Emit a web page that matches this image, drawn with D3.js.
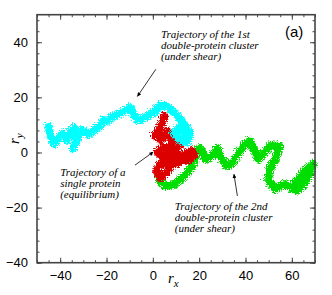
<!DOCTYPE html>
<html>
<head>
<meta charset="utf-8">
<script src="https://cdn.jsdelivr.net/npm/d3@7"></script>
<style>
  body { margin: 0; background: #fff; }
  .tick text { font-family: "Liberation Sans", Arial, sans-serif; font-size: 13px; fill: #000; }
  .note { font-family: "Liberation Serif", "Times New Roman", serif; font-style: italic; font-size: 11px; fill: #000; }
</style>
</head>
<body>
<div id="chart"></div>
<script>
// trajectories, [r_x, r_y]
var cyanTrack = [[-46.1,10.3],[-45.2,6.7],[-43.5,3.8],[-41.8,6.0],[-40.0,7.4],[-38.3,5.3],[-36.6,8.2],
  [-34.9,9.6],[-34.0,5.6],[-35.3,2.3],[-33.1,6.7],[-31.4,8.9],[-28.8,7.4],[-26.2,8.9],[-23.7,10.3],
  [-22.4,12.5],[-20.2,12.2],[-18.0,14.0],[-15.4,14.7],[-13.3,15.8],[-10.7,17.2],[-9.4,14.7],[-7.7,12.5],
  [-5.5,12.9],[-2.9,14.3],[-0.3,15.4],[1.8,17.6],[4.4,18.0],[6.6,16.5],[9.6,14.3],[12.2,11.4],
  [15.2,8.2],[13.9,4.5],[10.9,5.3],[8.3,7.8],[11.0,10.5],[13.5,7.0]];
var redTrack = [[4.0,14.0],[3.0,11.0],[1.5,9.0],[0.0,7.0],[2.5,5.5],[5.5,8.5],[7.5,6.0],[6.5,3.0],
  [3.5,2.5],[1.0,1.0],[3.5,-1.0],[6.5,0.5],[8.5,-1.0],[5.5,-3.0],[2.0,-3.5],[0.5,-6.0],[2.5,-8.5],
  [5.0,-6.5],[7.0,-4.0],[10.0,-3.0],[12.5,0.0],[15.5,1.5],[17.0,0.0],[14.5,-2.0],[11.0,-1.5],[9.0,1.5],[10.5,3.5]];
var greenTrack = [[1.4,-7.1],[2.2,-10.0],[4.8,-11.4],[8.3,-10.7],[11.7,-8.5],[14.8,-5.6],[17.0,-2.7],
  [17.4,0.9],[19.5,2.4],[21.7,-1.6],[24.7,-0.5],[26.9,2.4],[28.6,-1.3],[31.2,-4.2],[33.8,-2.7],
  [36.0,0.2],[38.2,3.1],[40.7,4.9],[43.0,1.3],[44.6,-1.6],[47.2,0.9],[50.2,3.4],[53.7,3.1],[51.9,-1.6],
  [49.4,-5.6],[48.9,-9.3],[51.9,-12.5],[55.8,-10.7],[59.2,-12.2],[61.0,-9.5],[62.3,-8.5],[65.3,-5.3],
  [68.3,-3.4],[66.5,-8.0],[63.5,-11.5],[61.0,-13.0]];

var xTicks = [-40, -20, 0, 20, 40, 60];
var yTicks = [-40, -20, 0, 20, 40];

var notes = [
  {lines: ["Trajectory of the 1st", "double-protein cluster", "(under shear)"], at: [3.5, 41.5], from: [1.3, 30.2], to: [-6.7, 20.3]},
  {lines: ["Trajectory of a", "single protein", "(equilibrium)"], at: [-40.0, -8.5], from: [-7.7, -4.6], to: [0.2, 0.2]},
  {lines: ["Trajectory of the 2nd", "double-protein cluster", "(under shear)"], at: [9.5, -21.0], from: [36.5, -15.8], to: [35.0, -7.8]}
];

var w = 332, h = 295;
var margin = {top: 14.7, right: 17, bottom: 32.3, left: 37};

var x = d3.scaleLinear().domain([-50, 70]).range([margin.left, w - margin.right]);
var y = d3.scaleLinear().domain([-40, 50]).range([h - margin.bottom, margin.top]);

var svg = d3.select("#chart").append("svg")
  .attr("width", w)
  .attr("height", h);

// fuzzy edge for the random walks
var defs = svg.append("defs");
var filt = defs.append("filter").attr("id", "rough")
  .attr("x", "-10%").attr("y", "-10%").attr("width", "120%").attr("height", "120%");
filt.append("feTurbulence").attr("type", "turbulence").attr("baseFrequency", 0.5)
  .attr("numOctaves", 2).attr("seed", 3).attr("result", "noise");
filt.append("feDisplacementMap").attr("in", "SourceGraphic").attr("in2", "noise")
  .attr("scale", 6).attr("xChannelSelector", "R").attr("yChannelSelector", "G");

defs.append("marker").attr("id", "head")
  .attr("viewBox", "0 0 10 10").attr("refX", 10).attr("refY", 5)
  .attr("markerWidth", 7).attr("markerHeight", 5).attr("orient", "auto")
  .append("path").attr("d", "M0,0L10,5L0,10Z").attr("fill", "#000");

var line = d3.line()
  .x(function (d) { return x(d[0]); })
  .y(function (d) { return y(d[1]); })
  .curve(d3.curveLinear);

var tracks = [
  {data: greenTrack, color: "#00dd00", width: 8},
  {data: redTrack, color: "#dd0000", width: 8},
  {data: cyanTrack, color: "#00ffff", width: 8}
];

svg.append("g").attr("filter", "url(#rough)")
  .selectAll("path")
  .data(tracks)
  .enter().append("path")
  .attr("d", function (d) { return line(d.data); })
  .attr("fill", "none")
  .attr("stroke", function (d) { return d.color; })
  .attr("stroke-width", function (d) { return d.width; })
  .attr("stroke-linejoin", "round")
  .attr("stroke-linecap", "round");

// axes, ticks inward on all four sides
function minor(step, dom) {
  return d3.range(dom[0], dom[1] + 0.001, step);
}
var xMinor = minor(5, x.domain()), yMinor = minor(4, [-40, 48]);

svg.append("g").attr("transform", "translate(0," + y(-40) + ")")
  .call(d3.axisBottom(x).tickValues(xTicks).tickSizeInner(-5).tickSizeOuter(0).tickPadding(8).tickFormat(d3.format("d")));
svg.append("g").attr("transform", "translate(0," + y(-40) + ")")
  .call(d3.axisBottom(x).tickValues(xMinor).tickSizeInner(-2.5).tickSizeOuter(0).tickFormat(""));
svg.append("g").attr("transform", "translate(0," + y(50) + ")")
  .call(d3.axisTop(x).tickValues(xTicks).tickSizeInner(-5).tickSizeOuter(0).tickFormat(""));
svg.append("g").attr("transform", "translate(0," + y(50) + ")")
  .call(d3.axisTop(x).tickValues(xMinor).tickSizeInner(-2.5).tickSizeOuter(0).tickFormat(""));
svg.append("g").attr("transform", "translate(" + x(-50) + ",0)")
  .call(d3.axisLeft(y).tickValues(yTicks).tickSizeInner(-5).tickSizeOuter(0).tickPadding(9).tickFormat(d3.format("d")));
svg.append("g").attr("transform", "translate(" + x(-50) + ",0)")
  .call(d3.axisLeft(y).tickValues(yMinor).tickSizeInner(-2.5).tickSizeOuter(0).tickFormat(""));
svg.append("g").attr("transform", "translate(" + x(70) + ",0)")
  .call(d3.axisRight(y).tickValues(yTicks).tickSizeInner(-5).tickSizeOuter(0).tickFormat(""));
svg.append("g").attr("transform", "translate(" + x(70) + ",0)")
  .call(d3.axisRight(y).tickValues(yMinor).tickSizeInner(-2.5).tickSizeOuter(0).tickFormat(""));

svg.selectAll(".domain").remove();
svg.selectAll(".tick line").attr("stroke", "#444").attr("stroke-width", 1);

svg.append("rect")
  .attr("x", x(-50)).attr("y", y(50))
  .attr("width", x(70) - x(-50)).attr("height", y(-40) - y(50))
  .attr("fill", "none").attr("stroke", "#444").attr("stroke-width", 1.6);

// axis titles
var xt = svg.append("text").attr("x", 168).attr("y", 283)
  .attr("font-family", "Liberation Serif, serif").attr("font-style", "italic").attr("font-size", 15);
xt.append("tspan").text("r");
xt.append("tspan").attr("dy", 4).attr("font-size", 11).text("x");

var yt = svg.append("text").attr("transform", "translate(19,144) rotate(-90)")
  .attr("font-family", "Liberation Serif, serif").attr("font-style", "italic").attr("font-size", 15);
yt.append("tspan").text("r");
yt.append("tspan").attr("dy", 4).attr("font-size", 11).text("y");

svg.append("text").attr("x", 285).attr("y", 37)
  .attr("font-family", "Liberation Sans, Arial, sans-serif").attr("font-size", 15)
  .text("(a)");

// annotations
var note = svg.selectAll(".noteg").data(notes).enter().append("g");
note.append("text").attr("class", "note")
  .attr("x", function (d) { return x(d.at[0]); })
  .attr("y", function (d) { return y(d.at[1]); })
  .selectAll("tspan").data(function (d) { return d.lines; })
  .enter().append("tspan")
  .attr("x", function () { return x(d3.select(this.parentNode).datum().at[0]); })
  .attr("dy", function (d, i) { return i === 0 ? 0 : 10.8; })
  .text(function (d) { return d; });
note.append("line")
  .attr("x1", function (d) { return x(d.from[0]); })
  .attr("y1", function (d) { return y(d.from[1]); })
  .attr("x2", function (d) { return x(d.to[0]); })
  .attr("y2", function (d) { return y(d.to[1]); })
  .attr("stroke", "#000").attr("stroke-width", 0.8)
  .attr("marker-end", "url(#head)");
</script>
</body>
</html>
